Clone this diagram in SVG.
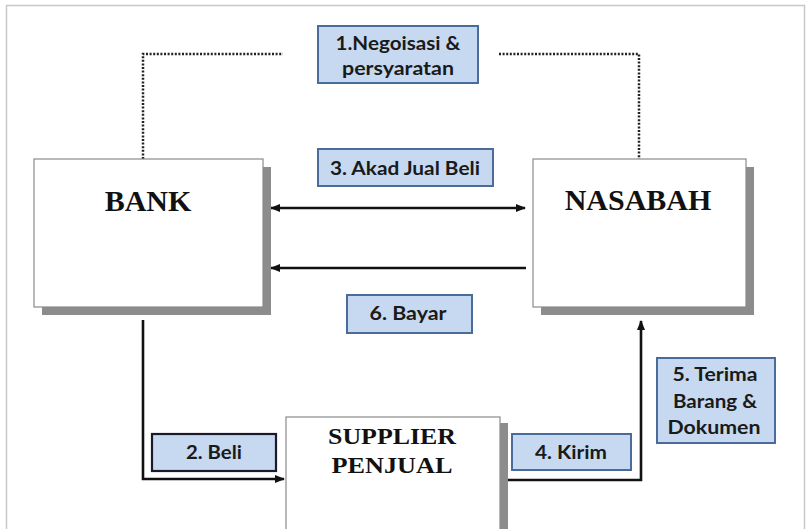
<svg xmlns="http://www.w3.org/2000/svg" width="807" height="529" viewBox="0 0 807 529">
<style>
.frame{fill:none;stroke:#c8c8c8;stroke-width:1.5}
.shadow{fill:#8c8c8c}
.box{fill:#ffffff;stroke:#8a8a8a;stroke-width:1.2}
.big{font-family:"Liberation Serif","Times New Roman",serif;font-weight:bold;font-size:30px;fill:#111;text-anchor:middle}
.mid{font-family:"Liberation Serif","Times New Roman",serif;font-weight:bold;font-size:23px;fill:#111;text-anchor:middle}
.lbl{fill:#c6d9f1;stroke:#4a6c9b;stroke-width:2}
.lbl2{fill:#c6d9f1;stroke:#1a1a2a;stroke-width:2.2}
.lt{font-family:Lato,"Open Sans","Liberation Sans",sans-serif;font-weight:bold;font-size:18px;fill:#1a1a1a;text-anchor:middle}
.conn{fill:none;stroke:#111;stroke-width:2.6}
.dot{fill:none;stroke:#222;stroke-width:2.5;stroke-dasharray:2 1.6}
</style>
<defs>
<marker id="ah" viewBox="0 0 10 10" refX="9" refY="5" markerWidth="4" markerHeight="4" orient="auto-start-reverse" markerUnits="strokeWidth">
<path d="M0,1 L10,5 L0,9 z" fill="#111"/>
</marker>
</defs>
<rect width="807" height="529" fill="#ffffff"/>
<path class="frame" d="M6.5,529 V5.5 H804.5 V529"/>

<g id="connectors">
<path class="dot" d="M143,159 V54 H283"/>
<path class="dot" d="M499,54 H639 V159"/>
<line class="conn" x1="271" y1="208" x2="525" y2="208" marker-start="url(#ah)" marker-end="url(#ah)"/>
<line class="conn" x1="526" y1="268" x2="271" y2="268" marker-end="url(#ah)"/>
<path class="conn" d="M143,320 V479 H284" marker-end="url(#ah)"/>
<path class="conn" d="M503,480 H641 V321" marker-end="url(#ah)"/>
</g>

<g id="bank">
<rect class="shadow" x="42" y="167" width="229" height="148"/>
<rect class="box" x="34" y="159" width="229" height="148"/>
<text class="big" x="148" y="211">BANK</text>
</g>

<g id="nasabah">
<rect class="shadow" x="541" y="167" width="213" height="148"/>
<rect class="box" x="533" y="159" width="213" height="148"/>
<text class="big" x="638" y="210">NASABAH</text>
</g>

<g id="supplier">
<rect class="shadow" x="294" y="423" width="214" height="110"/>
<rect class="box" x="286" y="417" width="214" height="116"/>
<text class="mid" x="392" y="444" textLength="128" lengthAdjust="spacingAndGlyphs">SUPPLIER</text>
<text class="mid" x="392" y="473" textLength="121" lengthAdjust="spacingAndGlyphs">PENJUAL</text>
</g>

<g id="label1">
<rect class="lbl" x="318" y="26" width="160" height="57"/>
<text class="lt" x="398" y="50" textLength="125" lengthAdjust="spacingAndGlyphs">1.Negoisasi &amp;</text>
<text class="lt" x="398" y="75" textLength="112" lengthAdjust="spacingAndGlyphs">persyaratan</text>
</g>

<g id="label3">
<rect class="lbl" x="318" y="149" width="175" height="37"/>
<text class="lt" x="405" y="175" textLength="150" lengthAdjust="spacingAndGlyphs">3. Akad Jual Beli</text>
</g>

<g id="label6">
<rect class="lbl" x="347" y="295" width="125" height="38"/>
<text class="lt" x="408" y="320" textLength="77" lengthAdjust="spacingAndGlyphs">6. Bayar</text>
</g>

<g id="label2">
<rect class="lbl2" x="152" y="434" width="124" height="37"/>
<text class="lt" x="214" y="459" textLength="56" lengthAdjust="spacingAndGlyphs">2. Beli</text>
</g>

<g id="label4">
<rect class="lbl" x="512" y="434" width="119" height="36"/>
<text class="lt" x="571" y="459" textLength="72" lengthAdjust="spacingAndGlyphs">4. Kirim</text>
</g>

<g id="label5">
<rect class="lbl" x="657" y="358" width="118" height="85"/>
<text class="lt" x="715" y="381" textLength="85" lengthAdjust="spacingAndGlyphs">5. Terima</text>
<text class="lt" x="715" y="408" textLength="84" lengthAdjust="spacingAndGlyphs">Barang &amp;</text>
<text class="lt" x="714" y="434" textLength="93" lengthAdjust="spacingAndGlyphs">Dokumen</text>
</g>
</svg>
